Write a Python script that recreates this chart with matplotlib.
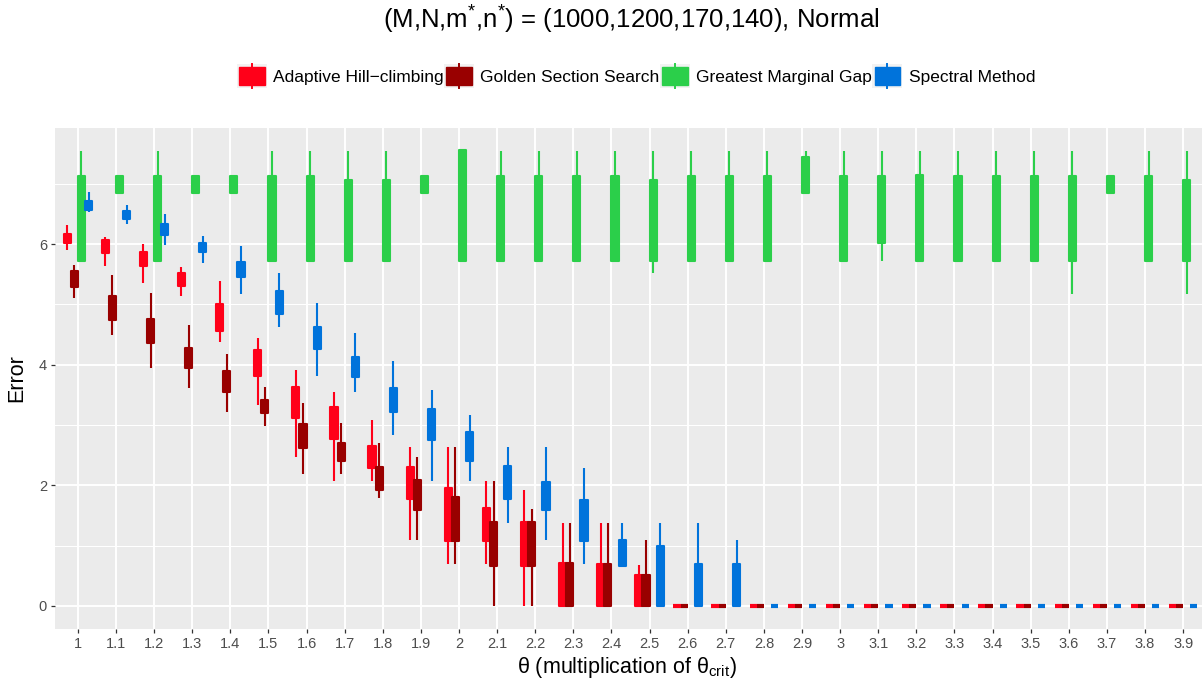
import matplotlib
matplotlib.use('Agg')
import matplotlib.pyplot as plt
from matplotlib.patches import Rectangle
from matplotlib.lines import Line2D
from matplotlib.legend_handler import HandlerBase
import numpy as np

plt.rcParams['font.family'] = ['Liberation Sans', 'DejaVu Sans']
plt.rcParams['mathtext.fontset'] = 'custom'
plt.rcParams['mathtext.rm'] = 'Liberation Sans'
plt.rcParams['mathtext.it'] = 'Liberation Sans:italic'
plt.rcParams['mathtext.bf'] = 'Liberation Sans:bold'

# ---------------- data ----------------
categories = ['1', '1.1', '1.2', '1.3', '1.4', '1.5', '1.6', '1.7', '1.8', '1.9',
              '2', '2.1', '2.2', '2.3', '2.4', '2.5', '2.6', '2.7', '2.8', '2.9',
              '3', '3.1', '3.2', '3.3', '3.4', '3.5', '3.6', '3.7', '3.8', '3.9']
series_names = ["Adaptive Hill\u2212climbing", "Golden Section Search",
                "Greatest Marginal Gap", "Spectral Method"]
series_colors = ['#FF0019', '#990000', '#2BCF4A', '#0073DB']

Z14 = [0.0] * 14
# Adaptive Hill-climbing
ahc_lo = [5.90, 5.64, 5.35, 5.14, 4.38, 3.33, 2.47, 2.08, 2.08, 1.09, 0.69, 0.69, 0.00, 0.00, 0.00, 0.00] + Z14
ahc_q1 = [6.02, 5.85, 5.64, 5.30, 4.56, 3.81, 3.12, 2.77, 2.29, 1.77, 1.08, 1.08, 0.67, 0.00, 0.00, 0.00] + Z14
ahc_q3 = [6.17, 6.07, 5.87, 5.52, 5.01, 4.24, 3.63, 3.30, 2.65, 2.31, 1.95, 1.62, 1.39, 0.71, 0.69, 0.52] + Z14
ahc_hi = [6.32, 6.11, 6.00, 5.62, 5.39, 4.45, 3.91, 3.55, 3.08, 2.63, 2.63, 2.07, 1.93, 1.37, 1.37, 0.68] + Z14
# Golden Section Search
gss_lo = [5.11, 4.49, 3.95, 3.61, 3.21, 2.99, 2.19, 2.19, 1.79, 1.09, 0.69, 0.00, 0.00, 0.00, 0.00, 0.00] + Z14
gss_q1 = [5.29, 4.74, 4.36, 3.95, 3.54, 3.20, 2.62, 2.40, 1.93, 1.59, 1.08, 0.67, 0.67, 0.00, 0.00, 0.00] + Z14
gss_q3 = [5.55, 5.14, 4.76, 4.27, 3.90, 3.41, 3.02, 2.70, 2.31, 2.09, 1.80, 1.40, 1.39, 0.71, 0.69, 0.52] + Z14
gss_hi = [5.65, 5.48, 5.19, 4.66, 4.17, 3.63, 3.36, 3.03, 2.70, 2.47, 2.63, 2.07, 1.60, 1.37, 1.37, 1.09] + Z14
# Greatest Marginal Gap
gmg_lo = [5.72, 6.85, 5.72, 6.85, 6.85, 5.72, 5.72, 5.72, 5.72, 6.85,
          5.72, 5.72, 5.72, 5.72, 5.72, 5.52, 5.72, 5.72, 5.72, 6.85,
          5.72, 5.72, 5.72, 5.72, 5.72, 5.72, 5.17, 6.85, 5.72, 5.17]
gmg_q1 = [5.72, 6.85, 5.72, 6.85, 6.85, 5.72, 5.72, 5.72, 5.72, 6.85,
          5.72, 5.72, 5.72, 5.72, 5.72, 5.72, 5.72, 5.72, 5.72, 6.85,
          5.72, 6.01, 5.72, 5.72, 5.72, 5.72, 5.72, 6.85, 5.72, 5.72]
gmg_q3 = [7.13, 7.13, 7.13, 7.13, 7.13, 7.13, 7.13, 7.06, 7.06, 7.13,
          7.56, 7.13, 7.13, 7.13, 7.13, 7.06, 7.13, 7.13, 7.13, 7.45,
          7.13, 7.13, 7.14, 7.13, 7.13, 7.13, 7.13, 7.13, 7.13, 7.06]
gmg_hi = [7.54, 7.13, 7.54, 7.13, 7.13, 7.54, 7.54, 7.54, 7.54, 7.13,
          7.56, 7.54, 7.54, 7.54, 7.54, 7.54, 7.54, 7.54, 7.54, 7.54,
          7.54, 7.54, 7.54, 7.54, 7.54, 7.54, 7.54, 7.13, 7.54, 7.54]
# Spectral Method
Z12 = [0.0] * 12
sm_lo = [6.53, 6.33, 5.98, 5.69, 5.18, 4.63, 3.82, 3.55, 2.83, 2.08, 2.08, 1.38, 1.09, 0.69, 0.66, 0.00, 0.00, 0.00] + Z12
sm_q1 = [6.56, 6.41, 6.15, 5.86, 5.45, 4.84, 4.26, 3.80, 3.21, 2.75, 2.40, 1.77, 1.59, 1.08, 0.66, 0.00, 0.00, 0.00] + Z12
sm_q3 = [6.72, 6.55, 6.33, 6.02, 5.70, 5.22, 4.62, 4.13, 3.61, 3.26, 2.88, 2.32, 2.05, 1.75, 1.09, 1.00, 0.70, 0.70] + Z12
sm_hi = [6.87, 6.65, 6.49, 6.14, 5.97, 5.52, 5.03, 4.52, 4.06, 3.58, 3.17, 2.63, 2.63, 2.29, 1.37, 1.37, 1.37, 1.09] + Z12

series = [
    (ahc_lo, ahc_q1, ahc_q3, ahc_hi),
    (gss_lo, gss_q1, gss_q3, gss_hi),
    (gmg_lo, gmg_q1, gmg_q3, gmg_hi),
    (sm_lo, sm_q1, sm_q3, sm_hi),
]

# ---------------- figure ----------------
W, H = 1202, 690
fig = plt.figure(figsize=(W / 100, H / 100), dpi=100)
fig.patch.set_facecolor('white')

ax_l, ax_r, ax_t, ax_b = 55, 1206, 127.6, 628.8
ax = fig.add_axes([ax_l / W, 1 - ax_b / H, (ax_r - ax_l) / W, (ax_b - ax_t) / H])
ax.set_facecolor('#EBEBEB')
for s in ax.spines.values():
    s.set_visible(False)

xpos = np.arange(1, len(categories) + 1)
dodge = 0.75 / 4
lw = 1.5

for k, (lo, q1, q3, hi) in enumerate(series):
    c = series_colors[k]
    stats = []
    for i in range(len(categories)):
        med = (q1[i] + q3[i]) / 2.0
        stats.append(dict(whislo=lo[i], q1=q1[i], med=med, q3=q3[i], whishi=hi[i], fliers=[]))
    pos = xpos + (k - 1.5) * dodge
    ax.bxp(stats, positions=pos, widths=dodge, patch_artist=True,
           showfliers=False, showcaps=False, manage_ticks=False,
           boxprops=dict(facecolor=c, edgecolor=c, linewidth=lw, joinstyle='round'),
           whiskerprops=dict(color=c, linewidth=lw, solid_capstyle='butt'),
           medianprops=dict(color=c, linewidth=2 * lw, solid_capstyle='butt'),
           zorder=3 + k)

ax.set_xlim(0.4, 30.6)
ax.set_ylim(-0.378, 7.93)
ax.set_xticks(xpos)
ax.set_xticklabels(categories)
ax.set_yticks([0, 2, 4, 6])
ax.set_yticks([1, 3, 5, 7], minor=True)
ax.set_axisbelow(True)
ax.grid(True, which='major', color='white', linewidth=1.4)
ax.grid(True, which='minor', axis='y', color='white', linewidth=0.75)
ax.tick_params(axis='both', which='major', length=3.2, width=0.9, color='#333333',
               labelcolor='#4D4D4D', labelsize=10.5, pad=2.5)
ax.tick_params(axis='y', which='minor', length=0)

# titles
fig.text(631 / W, 1 - 20 / H, r"(M,N,m$^{*}$,n$^{*}$) = (1000,1200,170,140), Normal",
         ha='center', va='center', fontsize=18.5, color='black')
fig.text(627 / W, 1 - 668 / H, r"θ (multiplication of θ$_{\mathrm{crit}}$)",
         ha='center', va='center', fontsize=15.5, color='black')
fig.text(17 / W, 1 - 378 / H, "Error", ha='center', va='center', rotation=90,
         fontsize=15.5, color='black')


# legend
class BoxKeyHandler(HandlerBase):
    def create_artists(self, legend, orig_handle, xdescent, ydescent, width, height,
                       fontsize, trans):
        c = orig_handle.get_facecolor()
        x0, y0 = -xdescent, -ydescent
        bg = Rectangle((x0, y0), width, height, facecolor='#F2F2F2', edgecolor='none',
                       transform=trans)
        bw, bh = width * 0.84, height * 0.72
        box = Rectangle((x0 + (width - bw) / 2, y0 + (height - bh) / 2), bw, bh,
                        facecolor=c, edgecolor=c, linewidth=1.0, transform=trans)
        wl = Line2D([x0 + width / 2] * 2, [y0, y0 + height], color=c, linewidth=1.4,
                    transform=trans)
        return [bg, wl, box]


handles = [Rectangle((0, 0), 1, 1, facecolor=c) for c in series_colors]
fig.legend(handles=handles, labels=series_names, handler_map={Rectangle: BoxKeyHandler()},
           loc='center', bbox_to_anchor=(636 / W, 1 - 76 / H), ncol=4, frameon=False,
           fontsize=12.5, handlelength=1.75, handleheight=1.8, handletextpad=0.35,
           columnspacing=0.0, borderaxespad=0, borderpad=0)

fig.savefig('out.png', dpi=100)
